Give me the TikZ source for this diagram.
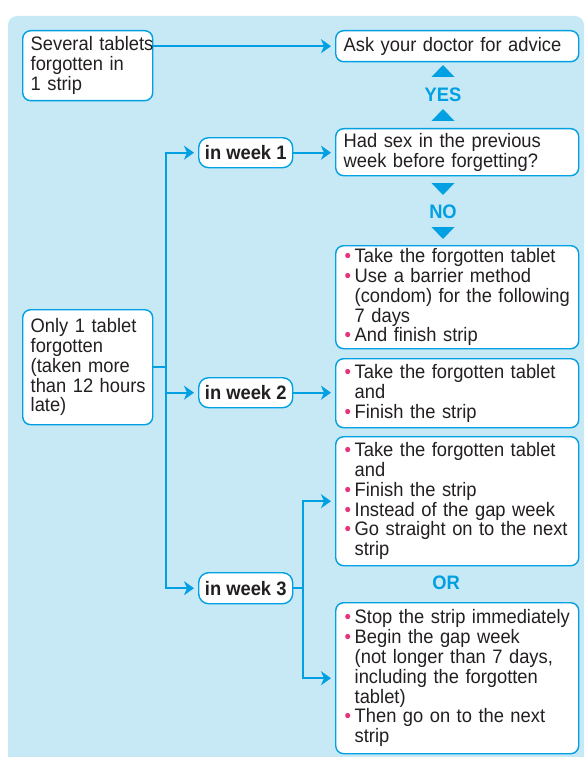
\documentclass[tikz,border=0pt]{standalone}
\usepackage{fontspec}
\setmainfont{Liberation Sans}[FakeStretch=0.94]
\usetikzlibrary{arrows.meta,calc}
\definecolor{panelblue}{RGB}{199,232,245}
\definecolor{linecyan}{RGB}{0,160,227}
\definecolor{bulpink}{RGB}{232,50,120}
\definecolor{ink}{RGB}{35,31,32}
\newcommand{\bl}[1]{\hspace*{1pt}\makebox[10pt][l]{\textcolor{bulpink}{•}}\mbox{#1}}
\newcommand{\cl}[1]{\hspace*{11pt}\mbox{#1}}
\newcommand{\pl}[1]{\mbox{#1}}
\tikzset{
  box/.style={draw=linecyan, line width=1.4pt, fill=white, rounded corners=8pt,
    align=left, inner xsep=8pt, inner ysep=0pt, text=ink, anchor=north west,
    font=\fontsize{19.5}{19.8}\selectfont},
  weekbox/.style={draw=linecyan, line width=1.4pt, fill=white, rounded corners=10pt,
    align=center, inner sep=0pt, text=ink, anchor=north west,
    font=\fontsize{19.5}{19.8}\selectfont\bfseries},
  lab/.style={text=linecyan, font=\fontsize{19.5}{19.8}\selectfont\bfseries, inner sep=0pt},
  conn/.style={draw=linecyan, line width=2pt},
  arr/.style={conn, -{Stealth[length=10pt,width=14pt,inset=3pt]}, shorten >=4pt},
}
\begin{document}
\begin{tikzpicture}[x=1pt,y=-1pt]
\useasboundingbox (0,0) rectangle (585,757);
\fill[panelblue] (8,757) [rounded corners=9pt]-- (8,16) -- (584,16) [sharp corners]-- (584,757) -- cycle;

% boxes
\node[box, minimum width=130pt, minimum height=70pt, text width=114pt] (sev) at (22,30)
  {\pl{Several tablets}\\\pl{forgotten in}\\\pl{1 strip}};
\node[box, minimum width=243pt, minimum height=31pt, text width=227pt] (ask) at (335,30)
  {\pl{Ask your doctor for advice}};
\node[box, minimum width=243pt, minimum height=47pt, text width=227pt] (had) at (335,128)
  {\pl{Had sex in the previous}\\\pl{week before forgetting?}};
\node[box, minimum width=243pt, minimum height=103pt, text width=227pt] (b1) at (335,245)
  {\bl{Take the forgotten tablet}\\\bl{Use a barrier method}\\\cl{(condom) for the following}\\\cl{7 days}\\\bl{And finish strip}};
\node[box, minimum width=243pt, minimum height=69pt, text width=227pt] (b2) at (335,358)
  {\bl{Take the forgotten tablet}\\\cl{and}\\\bl{Finish the strip}};
\node[box, minimum width=243pt, minimum height=129pt, text width=227pt] (b3) at (335,436)
  {\bl{Take the forgotten tablet}\\\cl{and}\\\bl{Finish the strip}\\\bl{Instead of the gap week}\\\bl{Go straight on to the next}\\\cl{strip}};
\node[box, minimum width=243pt, minimum height=151pt, text width=227pt] (b4) at (335,602)
  {\bl{Stop the strip immediately}\\\bl{Begin the gap week}\\\cl{(not longer than 7 days,}\\\cl{including the forgotten}\\\cl{tablet)}\\\bl{Then go on to the next}\\\cl{strip}};
\node[box, minimum width=130pt, minimum height=115pt, text width=114pt] (only) at (22,309)
  {\pl{Only 1 tablet}\\\pl{forgotten}\\\pl{(taken more}\\\pl{than 12 hours}\\\pl{late)}};

\node[weekbox, minimum width=94pt, minimum height=30pt] (w1) at (198,137) {in week 1};
\node[weekbox, minimum width=94pt, minimum height=30pt] (w2) at (198,377) {in week 2};
\node[weekbox, minimum width=94pt, minimum height=31pt] (w3) at (198,572) {in week 3};

% labels and triangles
\node[lab] (yes) at (443,95) {YES};
\node[lab] (no) at (443,212) {NO};
\node[lab] (or) at (446,583) {OR};
\fill[linecyan] (431.5,77) -- (443,65) -- (454.5,77) -- cycle;
\fill[linecyan] (431.5,121) -- (443,109) -- (454.5,121) -- cycle;
\fill[linecyan] (431.5,183) -- (443,195) -- (454.5,183) -- cycle;
\fill[linecyan] (431.5,227) -- (443,239) -- (454.5,227) -- cycle;

% connectors
\coordinate (tr) at (166,0);
\draw[arr] (ask.west -| sev.east) -- (ask.west);
\draw[conn] (only.east) -- (only.east -| tr);
\draw[arr] (w1.west -| tr) |- (w3.west);
\draw[arr] (w3.west -| tr) |- (w1.west);
\draw[arr] (w2.west -| tr) -- (w2.west);
\draw[arr] (w1.east) -- (w1.east -| had.west);
\draw[arr] (w2.east) -- (w2.east -| b2.west);
\coordinate (j3) at ($(w3.east)+(10,0)$);
\draw[conn] (w3.east) -- (j3);
\draw[arr] (j3) |- (b3.west);
\draw[arr] (j3) |- (b4.west);
\end{tikzpicture}
\end{document}
